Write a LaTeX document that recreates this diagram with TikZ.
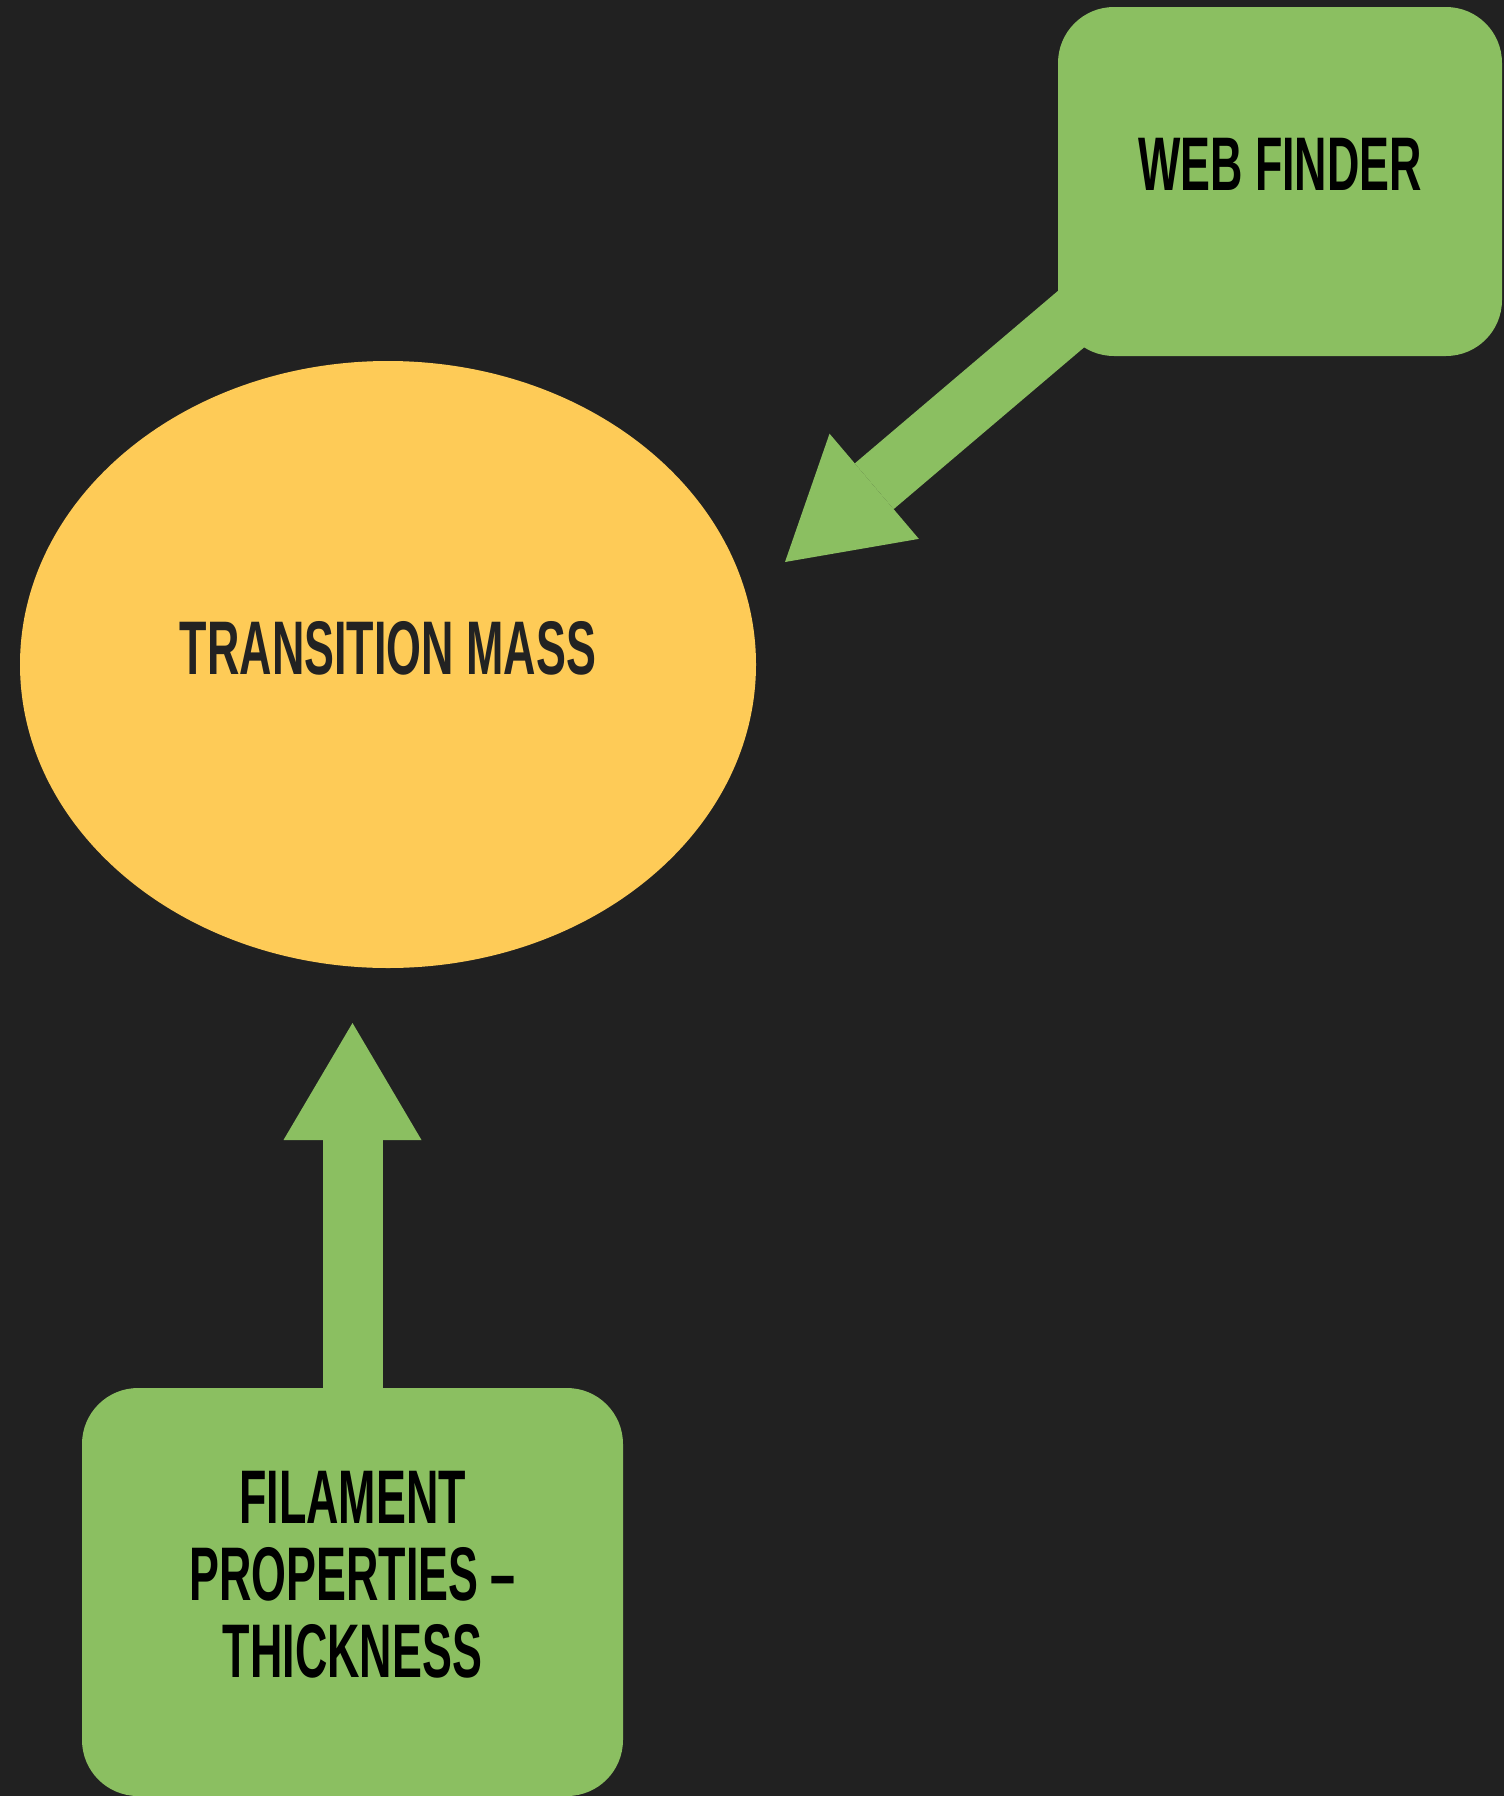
\documentclass[tikz,border=0pt]{standalone}
\usepackage{fontspec}
\newfontfamily\dinfont{Liberation Sans}[FakeStretch=0.59]
\usetikzlibrary{shapes.geometric,arrows.meta,calc}
\definecolor{bgdark}{HTML}{212121}
\definecolor{leaf}{HTML}{8BBF61}
\definecolor{sun}{HTML}{FECB57}
\definecolor{inkdark}{HTML}{222222}

\begin{document}
\begin{tikzpicture}[x=1pt,y=-1pt,
  greenbox/.style={fill=leaf, rounded corners=56pt, inner sep=0pt},
  boxtext/.style={font={\dinfont\bfseries\fontsize{76}{77}\selectfont}, align=center, inner sep=0pt},
  feed/.style={leaf, line width=60pt, -{Triangle[width=138pt,length=117pt,line width=0pt]}},
]
% canvas
\fill[bgdark] (0,0) rectangle (1504,1796);
\useasboundingbox (0,0) rectangle (1504,1796);

% shapes
\node[greenbox, minimum width=444pt, minimum height=349pt] (web) at (1280,181.5) {};
\node[greenbox, minimum width=541pt, minimum height=408pt] (file) at (352.5,1592) {};
\node[ellipse, fill=sun, minimum width=736pt, minimum height=607pt, inner sep=0pt] (mass) at (388,664.5) {};

% texts
\node[boxtext, text=black] (web-text) at ($(web.center)+(0,-17.5)$) {WEB FINDER};
\node[boxtext, text=inkdark] (mass-text) at ($(mass.center)+(0,-16)$) {TRANSITION MASS};
\node[boxtext, text=black] (file-text) at ($(file.center)+(0,-17)$) {FILAMENT\\PROPERTIES –\\THICKNESS};

% connectors
\coordinate (web-out) at ($(web.south west)+(42,-61.5)$);
\coordinate (mass-in) at (785,562);
\coordinate (mass-below) at (352.5,1023);
\draw[feed] (web-out) -- (mass-in);
\draw[feed] (file.north) -- (mass-below);
\end{tikzpicture}
\end{document}
